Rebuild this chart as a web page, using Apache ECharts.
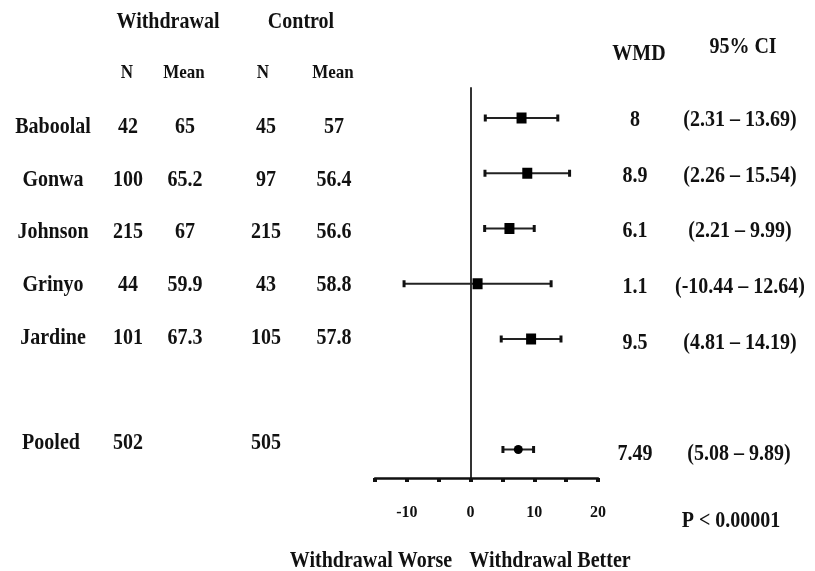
<!DOCTYPE html>
<html>
<head>
<meta charset="utf-8">
<script src="https://cdn.jsdelivr.net/npm/echarts@6/dist/echarts.min.js"></script>
<style>html,body{margin:0;padding:0;background:#fff}#c{width:815px;height:571px}</style>
</head>
<body>
<div id="c"></div>
<script>
// ---- data ----
var studies = ['Baboolal', 'Gonwa', 'Johnson', 'Grinyo', 'Jardine'];
var withdrawalN = [42, 100, 215, 44, 101];
var withdrawalMean = [65, 65.2, 67, 59.9, 67.3];
var controlN = [45, 97, 215, 43, 105];
var controlMean = [57, 56.4, 56.6, 58.8, 57.8];
var wmd = [8, 8.9, 6.1, 1.1, 9.5];
var ciLow = [2.31, 2.26, 2.21, -10.44, 4.81];
var ciHigh = [13.69, 15.54, 9.99, 12.64, 14.19];
var ciText = ['(2.31 \u2013 13.69)', '(2.26 \u2013 15.54)', '(2.21 \u2013 9.99)', '(-10.44 \u2013 12.64)', '(4.81 \u2013 14.19)'];
var pooledLabel = 'Pooled';
var pooledWithdrawalN = 502;
var pooledControlN = 505;
var pooledWmd = 7.49;
var pooledLow = 5.08;
var pooledHigh = 9.89;
var pooledCiText = '(5.08 \u2013 9.89)';
var pText = 'P < 0.00001';
var xTickLabels = [-10, 0, 10, 20];

// ---- layout ----
var pooledRow = 6; // one blank row before pooled
var F = '"Liberation Serif", "Times New Roman", serif';
var col = 'rgb(17,17,17)';
function txt(s, x, y, size) {
  return { type: 'text', x: x, y: y, scaleY: 1.13, silent: true,
    style: { text: String(s), font: 'bold ' + (size || 20) + 'px ' + F, fill: col,
      textAlign: 'center', textVerticalAlign: 'middle' } };
}
var leftY = function (i) { return 127 + 52.75 * i; };
var rightY = function (i) { return 120 + 55.7 * i; };
var g = [];
g.push(txt('Withdrawal', 168, 22));
g.push(txt('Control', 301, 22));
g.push(txt('N', 127, 73, 17));
g.push(txt('Mean', 184, 73, 17));
g.push(txt('N', 263, 73, 17));
g.push(txt('Mean', 333, 73, 17));
g.push(txt('WMD', 639, 54));
g.push(txt('95% CI', 743, 47));
for (var i = 0; i < studies.length; i++) {
  g.push(txt(studies[i], 53, leftY(i)));
  g.push(txt(withdrawalN[i], 128, leftY(i)));
  g.push(txt(withdrawalMean[i], 185, leftY(i)));
  g.push(txt(controlN[i], 266, leftY(i)));
  g.push(txt(controlMean[i], 334, leftY(i)));
  g.push(txt(wmd[i], 635, rightY(i)));
  g.push(txt(ciText[i], 740, rightY(i)));
}
g.push(txt(pooledLabel, 51, leftY(pooledRow)));
g.push(txt(pooledWithdrawalN, 128, leftY(pooledRow)));
g.push(txt(pooledControlN, 266, leftY(pooledRow)));
g.push(txt(pooledWmd, 635, rightY(pooledRow)));
g.push(txt(pooledCiText, 739, rightY(pooledRow)));
g.push(txt(pText, 731, 521));
g.push(txt('Withdrawal Worse', 371, 561));
g.push(txt('Withdrawal Better', 550, 561));

var ciData = [];
var sqData = [];
for (var j = 0; j < studies.length; j++) {
  ciData.push([ciLow[j], ciHigh[j], j]);
  sqData.push([wmd[j], j]);
}
ciData.push([pooledLow, pooledHigh, pooledRow]);

var chart = echarts.init(document.getElementById('c'), null, { renderer: 'canvas' });
chart.setOption({
  animation: false,
  backgroundColor: '#fff',
  grid: { left: 375, width: 223, top: 88, height: 390, containLabel: false },
  xAxis: {
    type: 'value', min: -15, max: 20, interval: 5,
    axisLine: { show: true, onZero: false, lineStyle: { color: '#111', width: 2.5 } },
    axisTick: { show: true, length: 4, lineStyle: { color: '#111', width: 4 } },
    axisLabel: {
      margin: 27, color: col, fontFamily: F, fontWeight: 'bold', fontSize: 16,
      formatter: function (v) { return xTickLabels.indexOf(v) >= 0 ? String(v) : ''; }
    },
    splitLine: { show: false }
  },
  yAxis: {
    type: 'value', inverse: true, min: -0.543, max: 6.516,
    axisLine: { show: true, onZero: true, lineStyle: { color: '#333', width: 2 } },
    axisTick: { show: false }, axisLabel: { show: false }, splitLine: { show: false }
  },
  graphic: g,
  series: [
    {
      type: 'custom',
      data: ciData,
      renderItem: function (params, api) {
        var a = api.coord([api.value(0), api.value(2)]);
        var b = api.coord([api.value(1), api.value(2)]);
        return {
          type: 'group',
          children: [
            { type: 'line', shape: { x1: a[0], y1: a[1], x2: b[0], y2: b[1] }, style: { stroke: '#222', lineWidth: 2 } },
            { type: 'rect', shape: { x: a[0] - 1.5, y: a[1] - 3.5, width: 3, height: 7 }, style: { fill: '#111' } },
            { type: 'rect', shape: { x: b[0] - 1.5, y: b[1] - 3.5, width: 3, height: 7 }, style: { fill: '#111' } }
          ]
        };
      },
      encode: { x: [0, 1], y: 2 },
      z: 2
    },
    {
      type: 'scatter', data: sqData, symbol: 'rect', symbolSize: [10, 11],
      itemStyle: { color: '#000', opacity: 1 }, z: 3
    },
    {
      type: 'scatter', data: [[pooledWmd, pooledRow]], symbol: 'circle', symbolSize: 9,
      itemStyle: { color: '#000', opacity: 1 }, z: 3
    }
  ]
});
</script>
</body>
</html>
